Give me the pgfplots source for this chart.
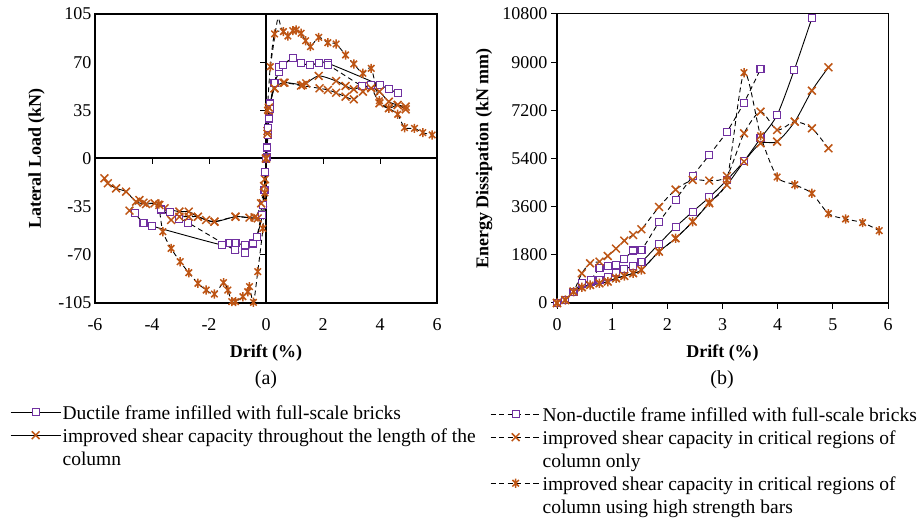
\documentclass[border=0pt]{standalone}
\usepackage{pgfplots}
\pgfplotsset{compat=1.18}
\usepackage{fontspec}
\setmainfont{Liberation Serif}
\definecolor{purp}{RGB}{112,48,160}
\definecolor{orng}{RGB}{190,85,20}
\pgfdeclareplotmark{xast}{%
 \pgfpathmoveto{\pgfqpoint{-.7071\pgfplotmarksize}{-.7071\pgfplotmarksize}}\pgfpathlineto{\pgfqpoint{.7071\pgfplotmarksize}{.7071\pgfplotmarksize}}%
 \pgfpathmoveto{\pgfqpoint{-.7071\pgfplotmarksize}{.7071\pgfplotmarksize}}\pgfpathlineto{\pgfqpoint{.7071\pgfplotmarksize}{-.7071\pgfplotmarksize}}%
 \pgfpathmoveto{\pgfqpoint{0pt}{-\pgfplotmarksize}}\pgfpathlineto{\pgfqpoint{0pt}{\pgfplotmarksize}}%
 \pgfusepathqstroke}
\pgfplotsset{
  every axis/.append style={font=\fontsize{18}{23}\selectfont},
  every tick label/.append style={font=\fontsize{18}{22}\selectfont},
  /pgf/number format/assume math mode=true,
  sq/.style={mark=square*, mark size=3.5pt, mark options={solid, draw=purp, fill=white, line width=1.2pt}},
  xm/.style={mark=x, mark size=5.5pt, mark options={solid, draw=orng, line width=1.5pt}},
  am/.style={mark=xast, mark size=4.6pt, mark options={solid, draw=orng, line width=1.5pt}},
  sol/.style={black, line width=0.9pt, smooth, tension=0.45},
  dsh/.style={black, line width=0.9pt, dash pattern=on 5pt off 3.5pt, smooth, tension=0.45},
  legend image code/.code={\draw[mark repeat=2,mark phase=2,#1] plot coordinates {(0pt,7pt)(25pt,7pt)(50pt,7pt)};},
  mylegend/.style={draw=none, fill=none, inner sep=0pt, row sep=0pt,
    cells={anchor=base west}, nodes={inner sep=0pt, text height=16pt, text depth=7pt}, column sep=1.5pt,
    font=\fontsize{19.5}{23}\selectfont},
}
\begin{document}
\begin{tikzpicture}
\useasboundingbox (0pt,0pt) rectangle (921pt,519pt);
%================ LEFT =================
\begin{axis}[
  at={(95pt,216pt)}, anchor=south west, scale only axis,
  width=342pt, height=289pt,
  xmin=-6, xmax=6, ymin=-105, ymax=105,
  xtick={-6,-4,...,6}, ytick={-105,-70,...,105},
  major tick length=0pt,
  axis line style={line width=1.1pt},
  clip=false,
  xticklabel style={yshift=-12pt},
  xlabel={\textbf{Drift (\%)}},
  xlabel style={at={(axis description cs:0.5,-0.173)}, anchor=center},
  ylabel={\textbf{Lateral Load (kN)}},
  ylabel style={at={(axis description cs:-0.171,0.5)}, anchor=center},
  legend style={mylegend, at={(axis description cs:-0.2485,-0.346)}, anchor=north west},
]
\draw[line width=2pt] (axis cs:-6,0) -- (axis cs:6,0);
\draw[line width=2pt] (axis cs:0,-105) -- (axis cs:0,105);
\pgfplotsinvokeforeach{-6,-4,-2,2,4,6}{\draw[line width=1pt] (axis cs:#1,0) -- ++(0pt,-6pt);}
\pgfplotsinvokeforeach{-105,-70,-35,35,70,105}{\draw[line width=1pt] (axis cs:0,#1) -- ++(-6pt,0pt);}
% Ductile (solid, squares)
\addplot[sol, sq] coordinates {
(-4.61,-39.8)(-4.30,-46.6)(-4.00,-49.1)(-1.54,-62.9)(-1.28,-61.2)(-1.07,-61.2)(-0.75,-62.9)(-0.46,-61.7)(-0.32,-56.8)(-0.13,-41.1)(-0.05,-22.9)(0,0)
(0.03,1.3)(0.06,17)(0.10,29)(0.15,40)(0.30,55)(0.47,63)(0.61,68)(0.94,72.8)(1.23,69.2)(1.53,68)(1.85,69.2)(2.17,69.2)(4.00,53.4)(4.31,50.3)(4.62,47.8)};
\addlegendentry{Ductile frame infilled with full-scale bricks}
% Improved throughout (solid, x)
\addplot[sol, xm] coordinates {
(-5.67,-14.4)(-5.55,-18.0)(-5.26,-21.7)(-4.91,-24.1)(-4.56,-31.4)(-4.21,-33.1)(-3.91,-32.6)(-3.56,-36.2)(-3.04,-38.6)(-2.71,-38.6)(-2.39,-42.3)(-1.81,-45.9)(-1.07,-42.3)(-0.58,-43.0)(-0.29,-43.5)(-0.11,-32.6)(-0.04,-15)(0,0)
(0.05,20)(0.10,35)(0.30,51)(0.65,55.1)(1.29,53.4)(1.41,54.6)(1.85,60.0)(2.46,56.3)(2.79,52.7)(3.08,50.3)(3.40,52.7)(3.69,51.7)(3.98,48.6)(4.31,41.3)(4.62,38.9)(4.90,37.7)};
\addlegendentry{improved shear capacity throughout the length of the}
\addlegendimage{empty legend}
\addlegendentry{column}
% Non-ductile (dashed, squares)
\addplot[dsh, sq, forget plot] coordinates {
(-3.68,-37.0)(-3.36,-38.6)(-3.06,-44.2)(-2.74,-46.6)(-1.10,-66.5)(-0.75,-68.4)(-0.46,-61.7)(-0.32,-56.8)(-0.11,-33.8)(-0.03,-10)(0,0)
(0.04,8)(0.08,22)(0.13,36)(0.30,55)(0.45,66.7)(0.61,68)(0.94,72.8)(1.23,69.2)(1.53,68)(1.85,69.2)(2.17,68)(3.37,52.7)(3.69,53.4)};
% Critical regions only (dashed, x)
\addplot[dsh, xm, forget plot] coordinates {
(-4.79,-37.9)(-4.44,-30.2)(-4.30,-32.1)(-3.74,-33.8)(-3.33,-44.7)(-3.04,-42.3)(-2.71,-42.3)(-2.39,-42.3)(-2.10,-44.7)(-1.81,-45.9)(-1.07,-42.3)(-0.40,-42.8)(-0.17,-32.6)(-0.07,-20)(0,0)
(0.05,18)(0.10,37)(0.30,51)(0.61,55)(1.23,53)(1.88,51.0)(2.17,49.8)(2.46,47.8)(2.79,44.9)(3.08,43.0)(3.40,48.6)(3.69,51.0)(3.98,40.1)(4.31,36.5)(4.62,38.9)(4.90,35.7)};
% High strength bars (dashed, asterisk)
\addplot[dsh, am, forget plot] coordinates {
(-3.76,-33.1)(-3.62,-53.2)(-3.33,-65.3)(-3.01,-75.0)(-2.71,-83.0)(-2.39,-90.7)(-2.10,-95.6)(-1.81,-98.5)(-1.49,-90.2)(-1.34,-95.6)(-1.20,-104)(-1.07,-104)(-0.81,-100.4)(-0.64,-96.8)(-0.58,-93.1)(-0.44,-104.5)(-0.29,-82.2)(-0.11,-50.8)(-0.04,-25)(0,0)
(0.05,35)(0.15,66.7)(0.30,90.5)(0.61,92.2)(0.77,89.0)(0.94,92.9)(1.06,93.4)(1.23,91.0)(1.39,85.6)(1.56,81.3)(1.85,88.0)(2.17,84.2)(2.46,83.2)(2.79,75.2)(3.08,68.7)(3.40,61.9)(3.69,65.5)(3.98,42)(4.31,36.5)(4.62,32.1)(4.86,22.4)(5.21,21.9)(5.50,18.8)(5.83,17.1)};
\addplot[dsh, no marks, forget plot] coordinates {(0.15,66.7)(0.36,96)(0.43,102)(0.52,96)(0.61,92.2)};
\end{axis}
%================ RIGHT =================
\begin{axis}[
  at={(557pt,216pt)}, anchor=south west, scale only axis,
  width=331pt, height=289pt,
  xmin=0, xmax=6, ymin=0, ymax=10800,
  xtick={0,1,...,6}, ytick={0,1800,...,10800},
  scaled y ticks=false,
  yticklabel style={/pgf/number format/.cd, fixed, 1000 sep={}},
  tick align=outside, major tick length=6pt,
  tick style={line width=1pt, black},
  xtick pos=bottom, ytick pos=left,
  axis line style={line width=1pt},
  clip=false,
  xticklabel style={yshift=-6pt},
  xlabel={\textbf{Drift (\%)}},
  xlabel style={at={(axis description cs:0.5,-0.173)}, anchor=center},
  ylabel={\textbf{Energy Dissipation (kN mm)}},
  ylabel style={at={(axis description cs:-0.2205,0.5)}, anchor=center},
  legend style={mylegend, at={(axis description cs:-0.2024,-0.353)}, anchor=north west},
]
\draw[line width=2.2pt] (rel axis cs:0,1) -- (rel axis cs:0,0) -- (rel axis cs:1,0);
% Ductile
\addplot[sol, sq, forget plot] coordinates {
(0,0)(0.15,112)(0.30,424)(0.45,700)(0.61,800)(0.77,860)(0.92,960)(1.07,1140)(1.22,1270)(1.38,1380)(1.53,1530)(1.85,2215)(2.15,2840)(2.46,3413)(2.76,3950)(3.08,4597)(3.39,5307)(3.69,6154)(3.99,7026)(4.30,8707)(4.62,10640)};
% Improved throughout
\addplot[sol, xm, forget plot] coordinates {
(0,0)(0.15,112)(0.30,424)(0.45,586)(0.60,673)(0.77,735)(0.92,797)(1.07,922)(1.22,1009)(1.38,1109)(1.53,1234)(1.85,1919)(2.15,2417)(2.46,3040)(2.76,3726)(3.08,4410)(3.39,5282)(3.69,5968)(3.99,6030)(4.31,6777)(4.62,7935)(4.92,8807)};
% Non-ductile
\addplot[dsh, sq] coordinates {
(0,0)(0.15,112)(0.30,424)(0.45,735)(0.61,860)(0.77,1296)(0.92,1380)(1.07,1430)(1.22,1640)(1.38,1960)(1.53,1985)(1.85,3025)(2.15,3860)(2.46,4746)(2.76,5530)(3.08,6403)(3.39,7486)(3.69,8745)};
\addlegendentry{Non-ductile frame infilled with full-scale bricks}
% Critical regions only
\addplot[dsh, xm] coordinates {
(0,0)(0.15,112)(0.30,424)(0.45,1109)(0.60,1483)(0.77,1545)(0.92,1757)(1.07,2031)(1.22,2330)(1.38,2542)(1.53,2754)(1.85,3590)(2.15,4236)(2.46,4598)(2.76,4572)(3.08,4746)(3.39,6341)(3.69,7150)(3.99,6466)(4.31,6777)(4.62,6528)(4.92,5780)};
\addlegendentry{improved shear capacity in critical regions of}
\addlegendimage{empty legend}
\addlegendentry{column only}
% High strength bars
\addplot[dsh, am] coordinates {
(0,0)(0.15,112)(0.30,424)(0.45,586)(0.60,673)(0.77,735)(0.92,797)(1.07,922)(1.22,1009)(1.38,1109)(1.53,1234)(1.85,1919)(2.15,2417)(2.46,3040)(2.76,3760)(3.08,4597)(3.39,8608)(3.69,6250)(3.99,4710)(4.31,4420)(4.62,4098)(4.92,3340)(5.23,3139)(5.54,3003)(5.84,2703)};
\addlegendentry{improved shear capacity in critical regions of}
\addlegendimage{empty legend}
\addlegendentry{column using high strength bars}
\end{axis}
\node[font=\fontsize{20}{24}\selectfont] at (266pt,139pt) {(a)};
\node[font=\fontsize{20}{24}\selectfont] at (722pt,139pt) {(b)};
\end{tikzpicture}
\end{document}
